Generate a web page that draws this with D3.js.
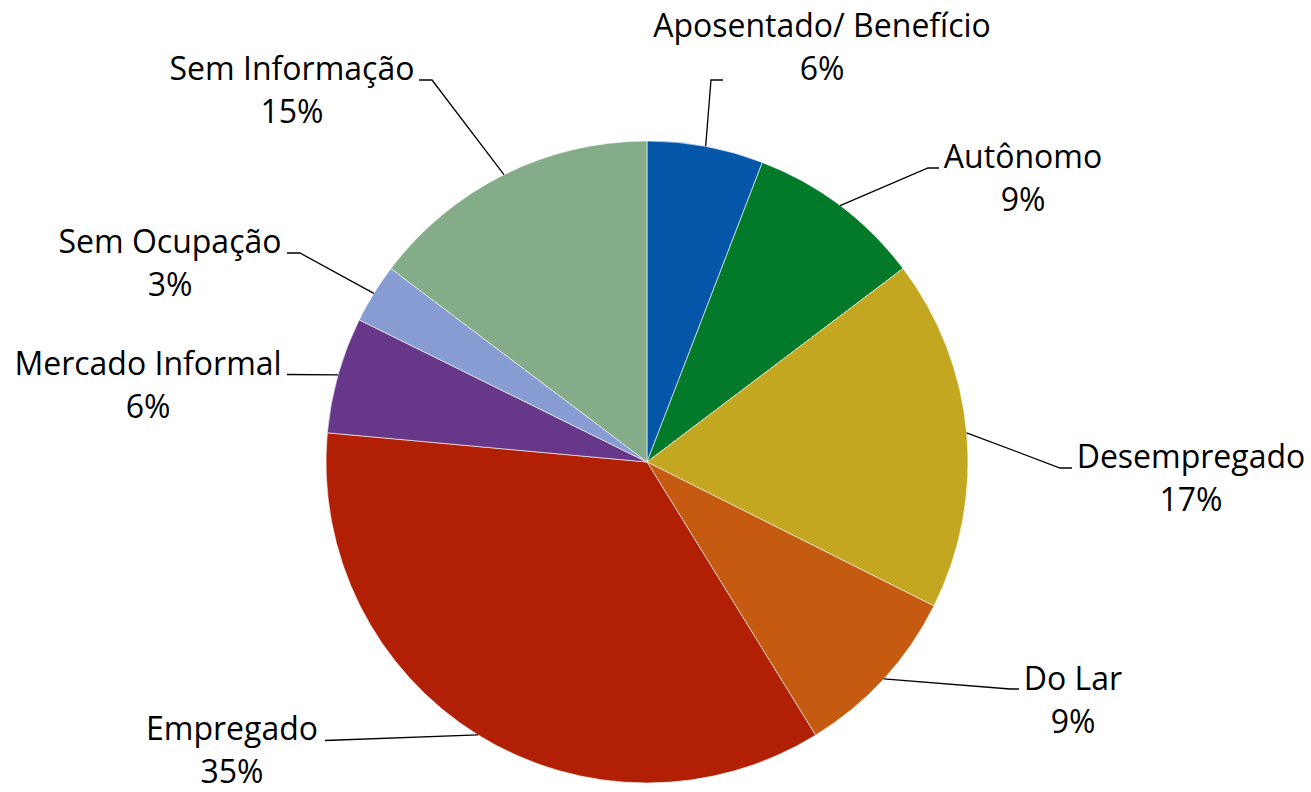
<!DOCTYPE html>
<html>
<head>
<meta charset="utf-8">
<script src="https://cdn.jsdelivr.net/npm/d3@7"></script>
<style>
  html, body { margin: 0; padding: 0; background: #ffffff; }
  svg { display: block; }
  text { font-family: "Open Sans", "Noto Sans", sans-serif; fill: #000; }
</style>
</head>
<body>
<svg id="chart" width="1311" height="792"></svg>
<script>
// ---- Data ----
const categories = ["Aposentado/ Benefício", "Autônomo", "Desempregado", "Do Lar", "Empregado", "Mercado Informal", "Sem Ocupação", "Sem Informação"];
const shares = [5.85, 8.85, 17.7, 8.8, 35.25, 5.85, 3.0, 14.7];
const percentLabels = ["6%", "9%", "17%", "9%", "35%", "6%", "3%", "15%"];
const colors = ["#0457A8", "#027A2A", "#C3A720", "#C55B10", "#B11F05", "#673889", "#869CD2", "#84AC89"];

// ---- Layout (label placement: text centre x, first baseline y, elbow x, elbow y, end x) ----
const labelLayout = [
  [822, 37, 711, 80, 723],
  [1023, 168, 928, 168, 939],
  [1191, 468, 1060, 468, 1072],
  [1073, 690, 1010, 689, 1019],
  [232, 740, 325, 740.5, 325],
  [148, 375, 287, 374.5, 287],
  [170, 253, 300, 253, 287],
  [292, 80, 432, 80, 419]
];

const W = 1311, H = 792;
const cx = 647, cy = 462, R = 321;
const fontSize = 32, lineGap = 43;

const svg = d3.select("#chart");
const g = svg.append("g").attr("transform", `translate(${cx},${cy})`);

const data = categories.map((c, i) => ({ name: c, value: shares[i], pct: percentLabels[i], color: colors[i], layout: labelLayout[i] }));

const pie = d3.pie().value(d => d.value).sort(null);
const arcs = pie(data);
const arc = d3.arc().innerRadius(0).outerRadius(R);

g.selectAll("path.slice")
  .data(arcs)
  .enter().append("path")
  .attr("class", "slice")
  .attr("d", arc)
  .attr("fill", d => d.data.color)
  .attr("stroke", "#ffffff")
  .attr("stroke-width", 0.6);

// Leader lines
const lineGen = d3.line();
arcs.forEach(a => {
  const mid = (a.startAngle + a.endAngle) / 2;
  const ex = cx + R * Math.sin(mid);
  const ey = cy - R * Math.cos(mid);
  const L = a.data.layout;
  const pts = [[ex, ey], [L[2], L[3]], [L[4], L[3]]];
  svg.append("path")
    .attr("d", lineGen(pts))
    .attr("fill", "none")
    .attr("stroke", "#000")
    .attr("stroke-width", 1.3);
});

// Labels
arcs.forEach(a => {
  const L = a.data.layout;
  const t = svg.append("text")
    .attr("text-anchor", "middle")
    .attr("font-size", fontSize);
  t.append("tspan").attr("x", L[0]).attr("y", L[1]).text(a.data.name);
  t.append("tspan").attr("x", L[0]).attr("y", L[1] + lineGap).text(a.data.pct);
});
</script>
</body>
</html>
